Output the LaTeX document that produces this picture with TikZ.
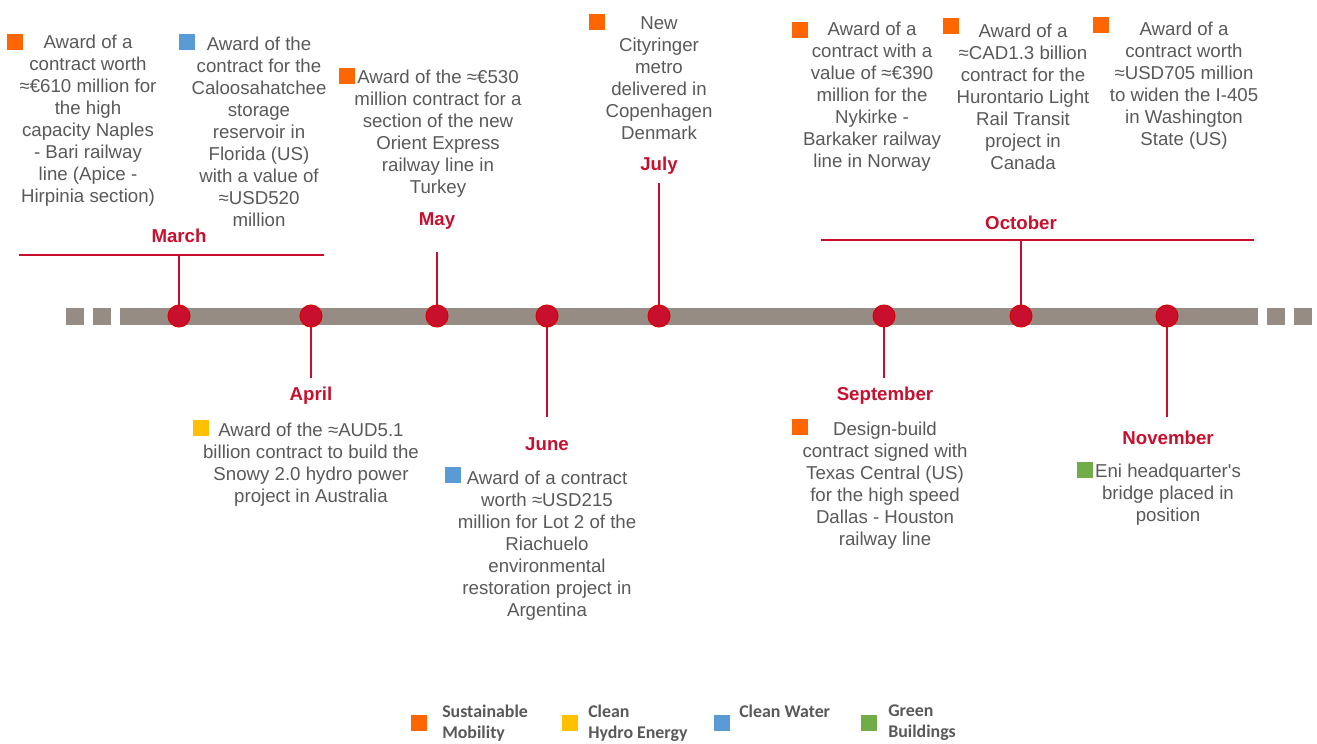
\documentclass[tikz,border=0pt]{standalone}
\usepackage{fontspec}
\setmainfont{Liberation Sans}
\newfontfamily\legfont{Carlito}
\definecolor{txt}{HTML}{595959}
\definecolor{mred}{HTML}{C8102E}
\definecolor{lred}{HTML}{C00000}
\definecolor{barc}{HTML}{968C83}
\definecolor{cor}{HTML}{FF6600}
\definecolor{cye}{HTML}{FFC000}
\definecolor{cbl}{HTML}{5B9BD5}
\definecolor{cgr}{HTML}{70AD47}
\begin{document}
\begin{tikzpicture}[x=0.75pt,y=-0.75pt,
  desc/.style={align=center, text=txt, font=\fontsize{14}{16.5}\selectfont, inner sep=0pt, yshift=-1.5pt},
  month/.style={text=mred, font=\fontsize{14}{16.5}\selectfont\bfseries, inner sep=0pt},
  dot/.style={circle, fill=mred, draw=red!85!black, line width=0.75pt, minimum size=16.5pt, inner sep=0pt},
  conn/.style={draw=mred, line width=1.5pt},
  sq/.style={minimum size=12pt, inner sep=0pt, draw=none},
  legtxt/.style={align=left, text=txt, font=\legfont\bfseries\fontsize{13.4}{15.75}\selectfont, inner sep=0pt, anchor=north west},
  barpiece/.style={fill=barc}
]
\useasboundingbox (0,0) rectangle (1317,743);
% timeline bar
\fill[barpiece] (66,308) rectangle (84,325);
\fill[barpiece] (93,308) rectangle (111,325);
\fill[barpiece] (120,308) rectangle (1258,325);
\fill[barpiece] (1267,308) rectangle (1285,325);
\fill[barpiece] (1294,308) rectangle (1312,325);
% dot positions
\coordinate (pMar) at (179,316);
\coordinate (pApr) at (311,316);
\coordinate (pMay) at (437,316);
\coordinate (pJun) at (547,316);
\coordinate (pJul) at (659,316);
\coordinate (pSep) at (884,316);
\coordinate (pOct) at (1021,316);
\coordinate (pNov) at (1167,316);
% connector ends
\coordinate (eMar) at (179,255);
\coordinate (eMarL) at (19,255);
\coordinate (eMarR) at (324,255);
\coordinate (eApr) at (311,378);
\coordinate (eMay) at (437,252);
\coordinate (eJun) at (547,417);
\coordinate (eJul) at (659,183);
\coordinate (eSep) at (884,378);
\coordinate (eOct) at (1021,240);
\coordinate (eOctL) at (821,240);
\coordinate (eOctR) at (1254,240);
\coordinate (eNov) at (1167,417);
\draw[conn] (pMar) -- (eMar);
\draw[conn] (eMarL) -- (eMarR);
\draw[conn] (pApr) -- (eApr);
\draw[conn] (pMay) -- (eMay);
\draw[conn] (pJun) -- (eJun);
\draw[conn] (pJul) -- (eJul);
\draw[conn] (pSep) -- (eSep);
\draw[conn] (pOct) -- (eOct);
\draw[conn] (eOctL) -- (eOctR);
\draw[conn] (pNov) -- (eNov);
% dots
\node[dot] (dMar) at (pMar) {};
\node[dot] (dApr) at (pApr) {};
\node[dot] (dMay) at (pMay) {};
\node[dot] (dJun) at (pJun) {};
\node[dot] (dJul) at (pJul) {};
\node[dot] (dSep) at (pSep) {};
\node[dot] (dOct) at (pOct) {};
\node[dot] (dNov) at (pNov) {};
% month labels
\node[month] (mMar) at (179,236) {March};
\node[month] (mApr) at (311,396) {April};
\node[month] (mMay) at (437,221) {May};
\node[month] (mJun) at (547,444) {June};
\node[month] (mJul) at (659,166) {July};
\node[month] (mSep) at (885,396) {September};
\node[month] (mOct) at (1021,223) {October};
\node[month] (mNov) at (1168,438) {November};
% descriptions
\node[desc] (t1) at (88,118.5) {Award of a\\contract worth\\≈€610 million for\\the high\\capacity Naples\\- Bari railway\\line (Apice -\\Hirpinia section)};
\node[desc] (t2) at (259,129.5) {Award of the\\contract for the\\Caloosahatchee\\storage\\reservoir in\\Florida (US)\\with a value of\\≈USD520\\million};
\node[desc] (t3) at (438,132) {Award of the ≈€530\\million contract for a\\section of the new\\Orient Express\\railway line in\\Turkey};
\node[desc] (t4) at (659,76.5) {New\\Cityringer\\metro\\delivered in\\Copenhagen\\Denmark};
\node[desc] (t5) at (872,95) {Award of a\\contract with a\\value of ≈€390\\million for the\\Nykirke -\\Barkaker railway\\line in Norway};
\node[desc] (t6) at (1023,95) {Award of a\\≈CAD1.3 billion\\contract for the\\Hurontario Light\\Rail Transit\\project in\\Canada};
\node[desc] (t7) at (1184,84) {Award of a\\contract worth\\≈USD705 million\\to widen the I-405\\in Washington\\State (US)};
\node[desc] (t8) at (311,462.5) {Award of the ≈AUD5.1\\billion contract to build the\\Snowy 2.0 hydro power\\project in Australia};
\node[desc] (t9) at (547,543.5) {Award of a contract\\worth ≈USD215\\million for Lot 2 of the\\Riachuelo\\environmental\\restoration project in\\Argentina};
\node[desc] (t10) at (885,484) {Design-build\\contract signed with\\Texas Central (US)\\for the high speed\\Dallas - Houston\\railway line};
\node[desc] (t11) at (1168,492.5) {Eni headquarter\textquotesingle s\\bridge placed in\\position};
% category squares
\node[sq, fill=cor] (s1) at (15,42) {};
\node[sq, fill=cbl] (s2) at (187,42) {};
\node[sq, fill=cor] (s3) at (347,76) {};
\node[sq, fill=cor] (s4) at (597,22) {};
\node[sq, fill=cor] (s5) at (800,29.5) {};
\node[sq, fill=cor] (s6) at (951,26) {};
\node[sq, fill=cor] (s7) at (1101,25) {};
\node[sq, fill=cye] (s8) at (201,427.5) {};
\node[sq, fill=cbl] (s9) at (453,475) {};
\node[sq, fill=cor] (s10) at (800,427) {};
\node[sq, fill=cgr] (s11) at (1085,470) {};
% legend
\node[sq, fill=cor] (l1) at (419,723) {};
\node[legtxt] (lt1) at (442,704.5) {Sustainable\\Mobility};
\node[sq, fill=cye] (l2) at (570,723) {};
\node[legtxt] (lt2) at (588,704.5) {Clean\\Hydro Energy};
\node[sq, fill=cbl] (l3) at (721.5,723) {};
\node[legtxt] (lt3) at (739,704.5) {Clean Water};
\node[sq, fill=cgr] (l4) at (869,723) {};
\node[legtxt] (lt4) at (888,704.5) {Green\\Buildings};
\end{tikzpicture}
\end{document}
